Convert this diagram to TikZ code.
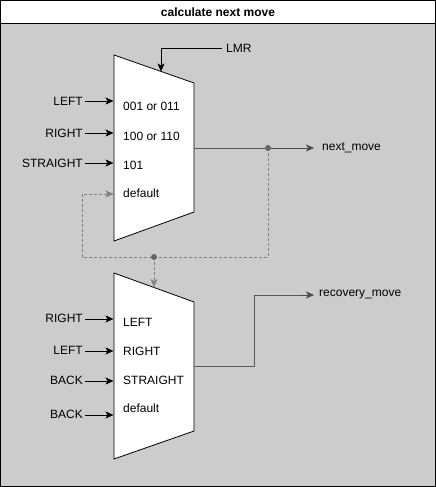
\documentclass[tikz,border=0pt]{standalone}
\usepackage{fontspec}
\setmainfont{Liberation Sans}
\usetikzlibrary{arrows.meta}
\begin{document}
\begin{tikzpicture}[x=1pt,y=-1pt,
  txt/.style={inner sep=0pt,font=\fontsize{12}{14}\selectfont},
  lbl/.style={txt,anchor=east},
  inlbl/.style={txt,anchor=west},
  tip/.style={-{Stealth[length=8pt,width=7pt,inset=2pt]}},
  wire/.style={tip,line width=0.8pt,black},
  outwire/.style={line width=0.9pt,draw=black!65},
  dwire/.style={line width=0.8pt,draw=black!50,dash pattern=on 3pt off 2pt},
  dot/.style={circle,fill=black!60,inner sep=0pt,minimum size=6pt},
  mux/.style={fill=white,draw=black,line width=0.8pt}]
\useasboundingbox (0,0) rectangle (436,487);
\fill[black!20] (0.5,23) rectangle (435.5,486.5);
\fill[white] (0.5,0.5) rectangle (435.5,23);
\draw[line width=0.9pt] (0.5,0.5) rectangle (435.5,486.5);
\draw[line width=0.9pt] (0.5,23) -- (435.5,23);
\node[txt,font=\fontsize{12}{14}\selectfont\bfseries] (title) at (218,12) {calculate next move};
% mux 1
\draw[mux] (114,55) -- (194,83) -- (194,212) -- (114,241) -- cycle;
\coordinate (m1sel) at (161,71.5);
\coordinate (m1a) at (113.5,101);
\coordinate (m1b) at (113.5,133);
\coordinate (m1c) at (113.5,163);
\coordinate (m1d) at (113.5,194);
\coordinate (m1out) at (194,148);
\node[inlbl] (c1) at (123,106) {001 or 011};
\node[inlbl] (c2) at (123,136) {100 or 110};
\node[inlbl] (c3) at (123,165) {101};
\node[inlbl] (c4) at (123,193) {default};
% mux 2
\draw[mux] (114,273) -- (194,302) -- (194,431) -- (114,459) -- cycle;
\coordinate (m2sel) at (154,287);
\coordinate (m2a) at (113.5,319);
\coordinate (m2b) at (113.5,351);
\coordinate (m2c) at (113.5,381);
\coordinate (m2d) at (113.5,415);
\coordinate (m2out) at (194,366);
\node[inlbl] (d1) at (123,322) {LEFT};
\node[inlbl] (d2) at (123,351) {RIGHT};
\node[inlbl] (d3) at (123,380) {STRAIGHT};
\node[inlbl] (d4) at (123,408) {default};
% input labels
\node[txt,anchor=west] (lmr) at (226,48) {LMR};
\node[lbl] (i1) at (83,101) {LEFT};
\node[lbl] (i2) at (83,133) {RIGHT};
\node[lbl] (i3) at (83,163) {STRAIGHT};
\node[lbl] (j1) at (83,318) {RIGHT};
\node[lbl] (j2) at (83,350) {LEFT};
\node[lbl] (j3) at (83,380) {BACK};
\node[lbl] (j4) at (83,414) {BACK};
\node[txt,anchor=west] (nm) at (322,148) {next\_move};
\node[txt,anchor=west] (rm) at (319,295) {recovery\_move};
% wires
\draw[wire] ([xshift=-4pt]lmr.west) -- (161,48) -- (m1sel);
\draw[wire] ([xshift=2pt]i1.east) -- (m1a);
\draw[wire] ([xshift=2pt]i2.east) -- (m1b);
\draw[wire] ([xshift=2pt]i3.east) -- (m1c);
\draw[wire] ([xshift=2pt]j1.east |- m2a) -- (m2a);
\draw[wire] ([xshift=2pt]j2.east |- m2b) -- (m2b);
\draw[wire] ([xshift=2pt]j3.east |- m2c) -- (m2c);
\draw[wire] ([xshift=2pt]j4.east |- m2d) -- (m2d);
\coordinate (p1) at (268,148);
\coordinate (p2) at (154,257);
\draw[dwire,tip] (p1) -- (268,257) -- (82,257) -- (82,194) -- (m1d);
\draw[dwire,tip] (p2) -- (m2sel);
\draw[outwire] (m1out) -- (p1);
\draw[wire,black!70] (p1) -- ([xshift=-8pt]nm.west);
\draw[outwire] (m2out) -- (254,366) -- (254,295) -- (300,295);
\draw[wire,black!70] (300,295) -- ([xshift=-5pt]rm.west);
\node[dot] (dot1) at (p1) {};
\node[dot] (dot2) at (p2) {};
\end{tikzpicture}
\end{document}
